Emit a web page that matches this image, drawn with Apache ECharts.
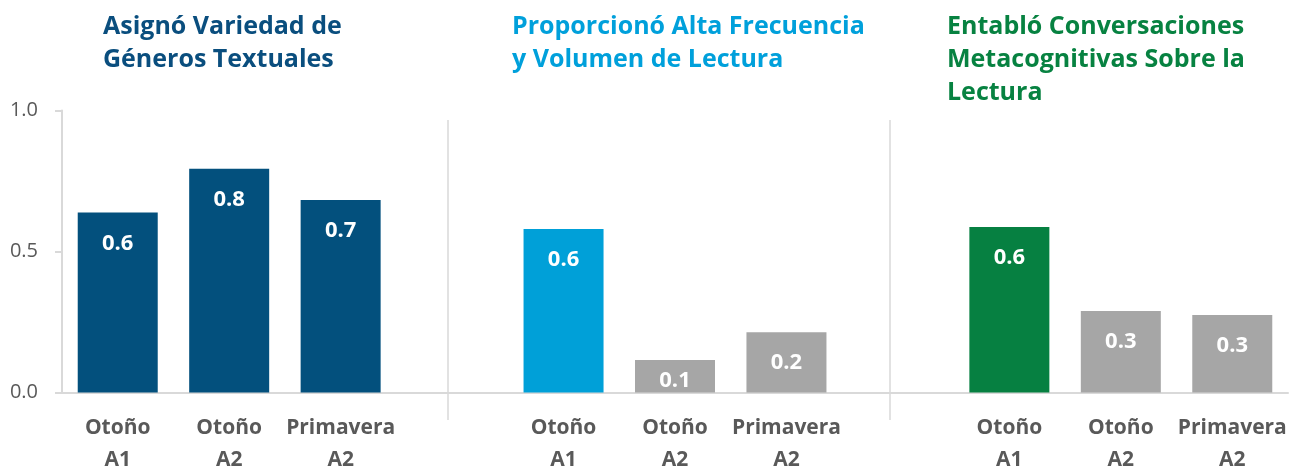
<!DOCTYPE html>
<html>
<head>
<meta charset="utf-8">
<script src="https://cdn.jsdelivr.net/npm/echarts@6/dist/echarts.min.js"></script>
<style>
html,body{margin:0;padding:0;background:#fff;}
#chart{width:1291px;height:469px;}
</style>
</head>
<body>
<div id="chart"></div>
<script>
// Data
const categories = ['Otoño\nA1', 'Otoño\nA2', 'Primavera\nA2', '', 'Otoño\nA1', 'Otoño\nA2', 'Primavera\nA2', '', 'Otoño\nA1', 'Otoño\nA2', 'Primavera\nA2'];
const generosValues = [0.638, 0.793, 0.683];
const frecuenciaValues = [0.580, 0.115, 0.214];
const metacogValues = [0.587, 0.289, 0.275];
const panelTitles = ['Asignó Variedad de\nGéneros Textuales', 'Proporcionó Alta Frecuencia\ny Volumen de Lectura', 'Entabló Conversaciones\nMetacognitivas Sobre la\nLectura'];
const yTicks = [0, 0.5, 1.0];

const FONT = '"Open Sans", sans-serif';
const darkBlue = '#03507D', lightBlue = '#00A0D8', green = '#068041', gray = '#A6A6A6';
const panelColors = [[darkBlue, darkBlue, darkBlue], [lightBlue, gray, gray], [green, gray, gray]];
const titleColors = ['#0A4E7E', '#00A0DB', '#078241'];

function item(v, c) {
  const it = { value: v, itemStyle: { color: c } };
  if (v < 0.15) it.label = { position: 'insideBottom', distance: 1 };
  return it;
}
const data = [];
[generosValues, frecuenciaValues, metacogValues].forEach((arr, p) => {
  arr.forEach((v, i) => data.push(item(v, panelColors[p][i])));
  if (p < 2) data.push('-');
});

const chart = echarts.init(document.getElementById('chart'));
const titleLefts = [103, 512, 947];
chart.setOption({
  animation: false,
  title: panelTitles.map((t, i) => ({
    text: t, left: titleLefts[i], top: 10, padding: 0,
    textStyle: { fontFamily: FONT, fontWeight: 'bold', fontSize: 25, lineHeight: 33, color: titleColors[i] }
  })),
  grid: { left: 62, right: 3, top: 110.5, bottom: 76.5, containLabel: false, outerBoundsMode: 'none' },
  xAxis: {
    type: 'category', data: categories,
    axisLine: { lineStyle: { color: '#D9D9D9', width: 2 } },
    axisTick: { show: false },
    axisLabel: { interval: 0, margin: 20, fontFamily: FONT, fontWeight: 'bold', fontSize: 21, lineHeight: 32, color: '#595959' }
  },
  yAxis: {
    type: 'value', min: 0, max: 1, interval: 0.5,
    axisLine: { show: true, lineStyle: { color: '#D9D9D9', width: 2 } },
    axisTick: { show: true, length: 7, lineStyle: { color: '#D9D9D9', width: 2 } },
    splitLine: { show: false },
    axisLabel: { margin: 24, fontFamily: FONT, fontSize: 20, color: '#595959', formatter: v => v.toFixed(1) }
  },
  series: [{
    type: 'bar', data: data, barWidth: 80,
    label: {
      show: true, position: 'insideTop', distance: 20,
      fontFamily: FONT, fontWeight: 'bold', fontSize: 22, color: '#fff',
      formatter: p => Number(p.value).toFixed(1)
    }
  }],
  graphic: [448, 890].map(x => ({
    type: 'line', shape: { x1: x, y1: 120, x2: x, y2: 420 },
    style: { stroke: '#D9D9D9', lineWidth: 1.5 }, silent: true
  }))
});
</script>
</body>
</html>
